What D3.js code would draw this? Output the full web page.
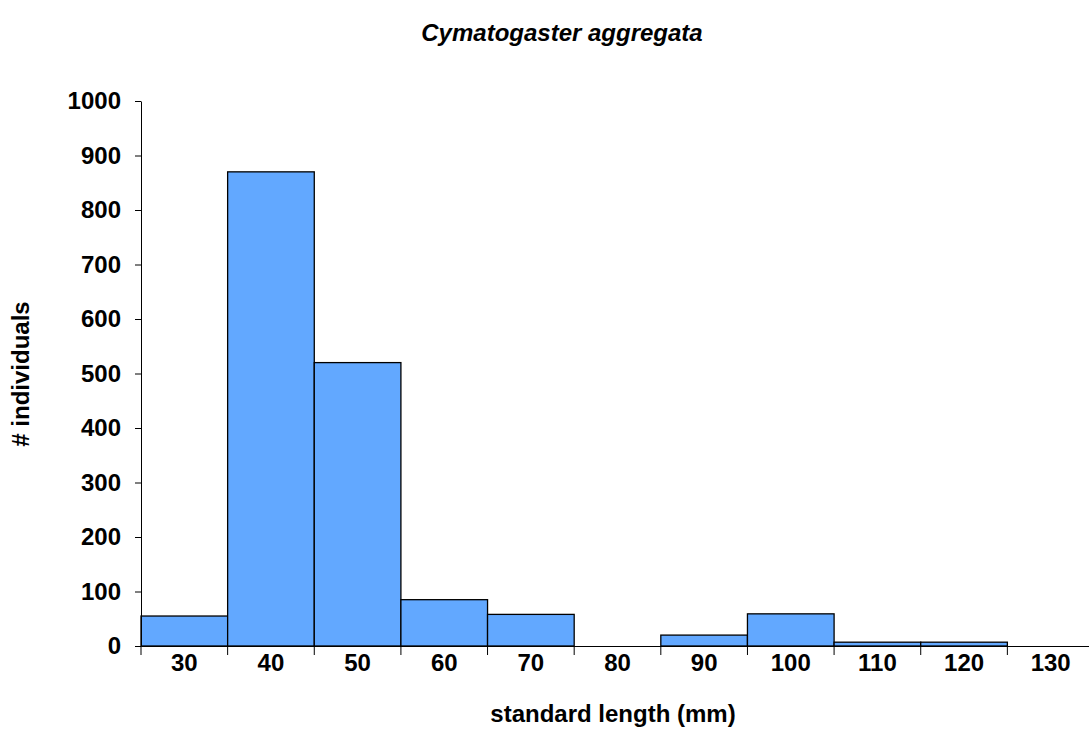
<!doctype html>
<html>
<head>
<meta charset="utf-8"/>
<script src="https://d3js.org/d3.v7.min.js"></script>
<style>body{margin:0;background:#fff;}</style>
</head>
<body>
<script>
var lengths = ["30","40","50","60","70","80","90","100","110","120","130"];
var counts = [55, 870, 520, 85, 58, 0, 20, 59, 7, 7, 0];
var yTicks = [0,100,200,300,400,500,600,700,800,900,1000];

var svg = d3.select("body").append("svg").attr("width",1089).attr("height",755);
var font = "Liberation Sans, Arial, sans-serif";

var x = d3.scaleBand().domain(lengths).range([141,1094]).padding(0);
var y = d3.scaleLinear().domain([0,1000]).range([646,101]);

svg.selectAll("rect.bar").data(counts).enter().append("rect")
  .attr("x", function(d,i){return x(lengths[i])})
  .attr("y", function(d){return y(d)})
  .attr("width", x.bandwidth())
  .attr("height", function(d){return 646-y(d)})
  .attr("fill","#62a8ff").attr("stroke","black").attr("stroke-width",1.3)
  .style("display", function(d){return d>0?null:"none"});

// y axis
var ya = svg.append("g").attr("transform","translate(141,0)")
  .call(d3.axisLeft(y).tickValues(yTicks).tickFormat(d3.format("d")).tickSize(6).tickSizeOuter(0));
ya.selectAll("text").attr("font-family",font).attr("font-size",24).attr("font-weight","bold").attr("fill","black").attr("dx",-11);
ya.selectAll("line,path").attr("stroke","black");

// x axis
var xa = svg.append("g").attr("transform","translate(0,646)")
  .call(d3.axisBottom(x).tickSize(0).tickSizeOuter(0));
xa.selectAll("text").attr("font-family",font).attr("font-size",24).attr("font-weight","bold").attr("fill","black").attr("dy",22);
xa.select("path").attr("stroke","black");
xa.selectAll(".sep").data(lengths).enter().append("line").attr("class","sep")
  .attr("x1",function(d){return x(d)}).attr("x2",function(d){return x(d)})
  .attr("y1",0).attr("y2",9).attr("stroke","black");
xa.append("line").attr("x1",x.range()[1]).attr("x2",x.range()[1]).attr("y1",0).attr("y2",9).attr("stroke","black");

svg.append("text").attr("x",562).attr("y",41).attr("text-anchor","middle")
  .attr("font-family",font).attr("font-size",24).attr("font-weight","bold").attr("font-style","italic")
  .text("Cymatogaster aggregata");
svg.append("text").attr("x",613).attr("y",722).attr("text-anchor","middle")
  .attr("font-family",font).attr("font-size",24).attr("font-weight","bold")
  .text("standard length (mm)");
svg.append("text").attr("transform","translate(29,374) rotate(-90)").attr("text-anchor","middle")
  .attr("font-family",font).attr("font-size",24).attr("font-weight","bold")
  .text("# individuals");
</script>
</body>
</html>
